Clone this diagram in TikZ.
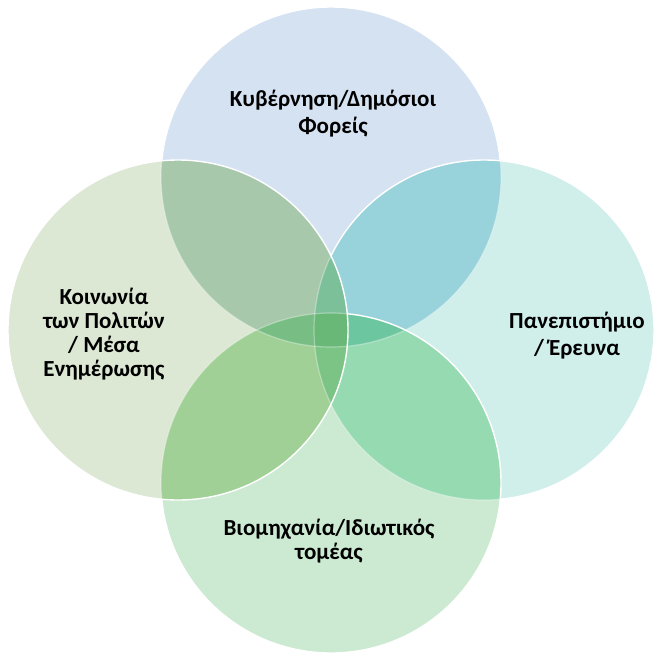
\documentclass[tikz,border=0pt]{standalone}
\usepackage{fontspec}
\setmainfont{Carlito}
\definecolor{cT}{HTML}{D4E2F2}
\definecolor{cL}{HTML}{DCE8D4}
\definecolor{cR}{HTML}{D0EEEA}
\definecolor{cB}{HTML}{CCEAD2}
\definecolor{cTL}{HTML}{A8C8AC}
\definecolor{cTR}{HTML}{98D2DA}
\definecolor{cBL}{HTML}{A0D096}
\definecolor{cBR}{HTML}{96DAB2}
\definecolor{cTLR}{HTML}{7CC09A}
\definecolor{cTBL}{HTML}{78BE84}
\definecolor{cTBR}{HTML}{6CC6A0}
\definecolor{cLBR}{HTML}{7CC486}
\definecolor{cTLBR}{HTML}{6AB878}
\def\pT{(331,177) circle[radius=170pt]}
\def\pL{(178,330) circle[radius=170pt]}
\def\pR{(484,330) circle[radius=170pt]}
\def\pB{(331,483) circle[radius=170pt]}
\tikzset{
  bright/.style={draw=white, line width=1.4pt},
  faint/.style={draw=white, line width=1.2pt, opacity=0.35},
  lbl/.style={align=center, font=\bfseries\fontsize{23}{24}\selectfont, text=black, inner sep=0pt},
  lblwide/.style={lbl, font=\bfseries\fontsize{23}{27}\selectfont},
}
\begin{document}
\begin{tikzpicture}[x=1pt,y=-1pt]
\useasboundingbox (0,0) rectangle (660,653);
\fill[white] (0,0) rectangle (660,653);
% top
\fill[cT] \pT;
\draw[bright] \pT;
% right
\fill[cR] \pR;
\begin{scope}
  \clip \pR;
  \fill[cTR] \pT;
  \draw[faint] \pT;
\end{scope}
\draw[bright] \pR;
% bottom
\fill[cB] \pB;
\begin{scope}
  \clip \pB;
  \fill[cTBL] \pT;
  \fill[cBR] \pR;
  \begin{scope}
    \clip \pT;
    \fill[cTBR] \pR;
  \end{scope}
  \draw[faint] \pT;
  \draw[faint] \pR;
\end{scope}
\draw[bright] \pB;
% left
\fill[cL] \pL;
\begin{scope}
  \clip \pL;
  \fill[cTL] \pT;
  \fill[cBL] \pB;
  \begin{scope}
    \clip \pT;
    \fill[cTLR] \pR;
    \fill[cTBL] \pB;
    \begin{scope}
      \clip \pB;
      \fill[cTLBR] \pR;
    \end{scope}
  \end{scope}
  \begin{scope}
    \clip \pB;
    \fill[cLBR] \pR;
    \begin{scope}
      \clip \pT;
      \fill[cTLBR] \pR;
    \end{scope}
  \end{scope}
  \draw[faint] \pT;
  \draw[faint] \pR;
  \draw[faint] \pB;
\end{scope}
\draw[bright] \pL;
% labels
\node[lblwide] (gov) at (333,114) {Κυβέρνηση/Δημόσιοι\\Φορείς};
\node[lbl] (soc) at (104,334) {Κοινωνία\\των Πολιτών\\/ Μέσα\\Ενημέρωσης};
\node[lblwide] (uni) at (577,336) {Πανεπιστήμιο\\/ Έρευνα};
\node[lbl] (ind) at (329,541) {Βιομηχανία/Ιδιωτικός\\τομέας};
\end{tikzpicture}
\end{document}
